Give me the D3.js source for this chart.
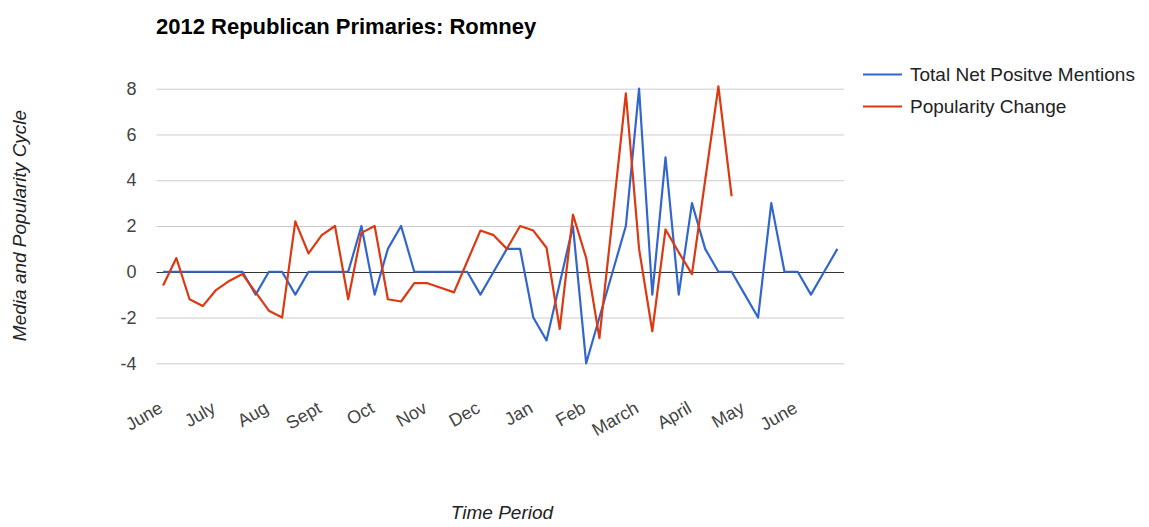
<!DOCTYPE html>
<html>
<head>
<meta charset="utf-8">
<script src="https://cdn.jsdelivr.net/npm/d3@7"></script>
<style>
  html, body { margin: 0; padding: 0; background: #fff; }
  svg { display: block; font-family: "Liberation Sans", Arial, sans-serif; }
</style>
</head>
<body>
<svg id="chart" width="1149" height="527"></svg>
<script>
// ---- data ----
const title = "2012 Republican Primaries: Romney";
const seriesNames = ["Total Net Positve Mentions", "Popularity Change"];
const seriesColors = ["#3366cc", "#dc3912"];
// weekly values, June 2011 .. June 2012
const mentions = [0, 0, 0, 0, 0, 0, 0, -1, 0, 0, -1, 0, 0, 0, 0, 2, -1, 1, 2, 0,
                  0, 0, 0, 0, -1, 0, 1, 1, -2, -3, -0.5, 2, -4, -2, 0, 2, 8, -1, 5, -1,
                  3, 1, 0, 0, -1, -2, 3, 0, 0, -1, 0, 1];
const popularity = [-0.6, 0.6, -1.2, -1.5, -0.8, -0.4, -0.1, -0.9, -1.7, -2.0,
                    2.2, 0.8, 1.6, 2.0, -1.2, 1.7, 2.0, -1.2, -1.3, -0.5,
                    -0.5, -0.7, -0.9, 0.45, 1.8, 1.6, 1.0, 2.0, 1.8, 1.05,
                    -2.5, 2.5, 0.6, -2.9, 2.4, 7.8, 1.0, -2.6, 1.85, 0.85,
                    -0.1, 4.0, 8.1, 3.3];
const monthLabels = ["June", "July", "Aug", "Sept", "Oct", "Nov", "Dec", "Jan",
                     "Feb", "March", "April", "May", "June"];
const weeksPerLabel = 4;
const yTicks = [-4, -2, 0, 2, 4, 6, 8];
const xTitle = "Time Period";
const yTitle = "Media and Popularity Cycle";

// ---- layout ----
const plotL = 156.5, plotR = 844, plotT = 88.7, plotB = 363.3;
const svg = d3.select("#chart");

const weeks = mentions.map((d, i) => i);
const x = d3.scaleBand().domain(weeks).range([plotL, plotR]).padding(0);
const xc = i => x(i) + x.bandwidth() / 2;
const y = d3.scaleLinear().domain([-4, 8]).range([plotB, plotT]);

// gridlines + y labels
const yAxis = svg.append("g")
  .attr("transform", `translate(${plotL},0)`)
  .call(d3.axisLeft(y).tickValues(yTicks).tickFormat(d => String(d))
    .tickSizeInner(-(plotR - plotL)).tickSizeOuter(0).tickPadding(20));
yAxis.select(".domain").remove();
yAxis.selectAll(".tick line").attr("stroke", "#cccccc").attr("stroke-width", 1);
yAxis.selectAll(".tick text")
  .attr("fill", "#444").attr("font-size", 18)
  .attr("font-family", "Liberation Sans, Arial, sans-serif");

// zero baseline
yAxis.selectAll(".tick line").filter(d => d === 0).remove();
svg.append("line")
  .attr("x1", plotL).attr("x2", plotR)
  .attr("y1", Math.round(y(0)) + 0.5).attr("y2", Math.round(y(0)) + 0.5)
  .attr("stroke", "#333").attr("stroke-width", 1);

// x labels
const labelWeeks = monthLabels.map((m, k) => k * weeksPerLabel);
const xAxis = svg.append("g")
  .attr("transform", "translate(0,412)")
  .call(d3.axisBottom(x).tickValues(labelWeeks)
    .tickFormat((d, k) => monthLabels[k]).tickSize(0).tickPadding(0));
xAxis.select(".domain").remove();
xAxis.selectAll(".tick line").remove();
xAxis.selectAll(".tick text")
  .attr("x", 1).attr("y", 0).attr("dy", 0)
  .attr("text-anchor", "end")
  .attr("transform", "rotate(-30)")
  .attr("fill", "#444").attr("font-size", 18)
  .attr("font-family", "Liberation Sans, Arial, sans-serif");

// series lines
const line = d3.line().x((d, i) => xc(i)).y(d => y(d));
[mentions, popularity].forEach((s, k) => {
  svg.append("path")
    .datum(s)
    .attr("d", line)
    .attr("fill", "none")
    .attr("stroke", seriesColors[k])
    .attr("stroke-width", 2.2)
    .attr("stroke-linejoin", "round");
});

// title
svg.append("text")
  .attr("x", 156).attr("y", 33.5)
  .attr("font-size", 22).attr("font-weight", "bold").attr("fill", "#000")
  .text(title);

// legend
const leg = svg.append("g");
seriesNames.forEach((name, k) => {
  const ly = 74.5 + k * 32;
  leg.append("line")
    .attr("x1", 863).attr("x2", 902).attr("y1", ly).attr("y2", ly)
    .attr("stroke", seriesColors[k]).attr("stroke-width", 2.2);
  leg.append("text")
    .attr("x", 910).attr("y", ly + 6.5)
    .attr("font-size", 19).attr("fill", "#222")
    .text(name);
});

// axis titles
svg.append("text")
  .attr("x", 502).attr("y", 519)
  .attr("text-anchor", "middle")
  .attr("font-size", 19).attr("font-style", "italic").attr("fill", "#222")
  .text(xTitle);
svg.append("text")
  .attr("transform", "translate(26,225.5) rotate(-90)")
  .attr("text-anchor", "middle")
  .attr("font-size", 19).attr("font-style", "italic").attr("fill", "#222")
  .text(yTitle);
</script>
</body>
</html>
